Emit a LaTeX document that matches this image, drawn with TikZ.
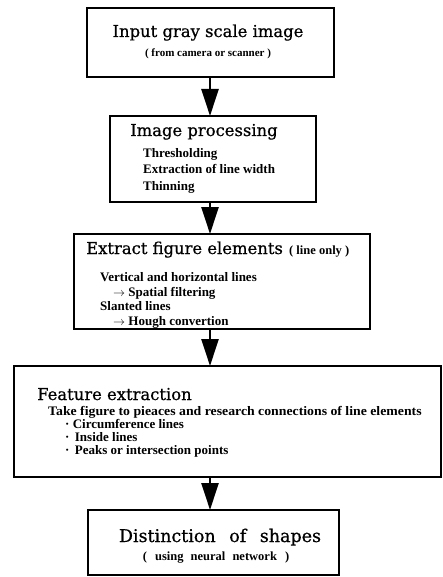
\documentclass[tikz,border=0pt]{standalone}
\usepackage{fontspec}
\setmainfont{Liberation Serif}
\newfontfamily\titlefont[FakeBold=0.7]{DejaVu Serif}
\usetikzlibrary{arrows.meta}
\begin{document}
\begin{tikzpicture}[x=1pt,y=-1pt,
  box/.style={draw, line width=1.6pt, inner sep=0pt, outer sep=0pt},
  shade/.style={line width=2.9pt, line cap=rect},
  ttl/.style={font=\titlefont\fontsize{16.4}{18}\selectfont, inner sep=0pt},
  itm/.style={font=\bfseries\fontsize{13}{14}\selectfont, inner sep=0pt, anchor=base west},
  sub/.style={font=\bfseries\fontsize{11}{12}\selectfont, inner sep=0pt},
  arr/.style={line width=2.6pt, -{Triangle[length=27pt,width=17pt]}}]
\useasboundingbox (0,0) rectangle (443,577);
% boxes
\node[box, minimum width=247pt, minimum height=69pt] (b1) at (210.5,42.5) {};
\node[box, minimum width=206pt, minimum height=86pt] (b2) at (213,159) {};
\node[box, minimum width=296pt, minimum height=95pt] (b3) at (222,281.5) {};
\node[box, minimum width=427pt, minimum height=111pt] (b4) at (227.5,421.5) {};
\node[box, minimum width=251pt, minimum height=65pt] (b5) at (213.5,542.5) {};
\foreach \b in {b1,b2,b3,b4,b5}{
  \draw[shade] (\b.north east) -- (\b.south east) -- (\b.south west);
}
% arrows
\coordinate (ax) at (210,0);
\draw[arr] (b1.south -| ax) -- (b2.north -| ax);
\draw[arr] (b2.south -| ax) -- (b3.north -| ax);
\draw[arr] (b3.south -| ax) -- (b4.north -| ax);
\draw[arr] (b4.south -| ax) -- (b5.north -| ax);
% box 1
\node[ttl, anchor=base] (t1) at (208,37) {Input gray scale image};
\node[sub, anchor=base] (s1) at (208,57) {( from camera or scanner )};
% box 2
\node[ttl, anchor=base west] (t2) at (130,136) {Image processing};
\node[itm] (i21) at (143,158) {Thresholding};
\node[itm] (i22) at (143,174) {Extraction of line width};
\node[itm] (i23) at (143,190) {Thinning};
% box 3
\node[ttl, anchor=base west] (t3) at (86,254) {Extract figure elements};
\node[sub, anchor=base west, font=\bfseries\fontsize{12.5}{13}\selectfont] (s3) at (289,254) {( line only )};
\node[itm] (i31) at (100,281) {Vertical and horizontal lines};
\node[itm] (i32) at (113,296) {$\rightarrow$ Spatial filtering};
\node[itm] (i33) at (100,310) {Slanted lines};
\node[itm] (i34) at (113,325) {$\rightarrow$ Hough convertion};
% box 4
\node[ttl, anchor=base west] (t4) at (37,400) {Feature extraction};
\node[itm] (i41) at (48,415) {\scalebox{1.06}[1]{Take figure to pieaces and research connections of line elements}};
\node[itm] (i42) at (65,428.5) {· Circumference lines};
\node[itm] (i43) at (65,441.5) {· \,Inside lines};
\node[itm] (i44) at (65,454.5) {· \,Peaks or intersection points};
% box 5
\node[ttl, anchor=base, font=\titlefont\fontsize{17.5}{19}\selectfont] (t5) at (220,542) {Distinction\hspace{8pt} of\hspace{8pt} shapes};
\node[sub, anchor=base, font=\bfseries\fontsize{12.5}{13}\selectfont] (s5) at (216,560) {(\hspace{5pt} using\hspace{4pt} neural\hspace{4pt} network\hspace{5pt} )};
\end{tikzpicture}
\end{document}
